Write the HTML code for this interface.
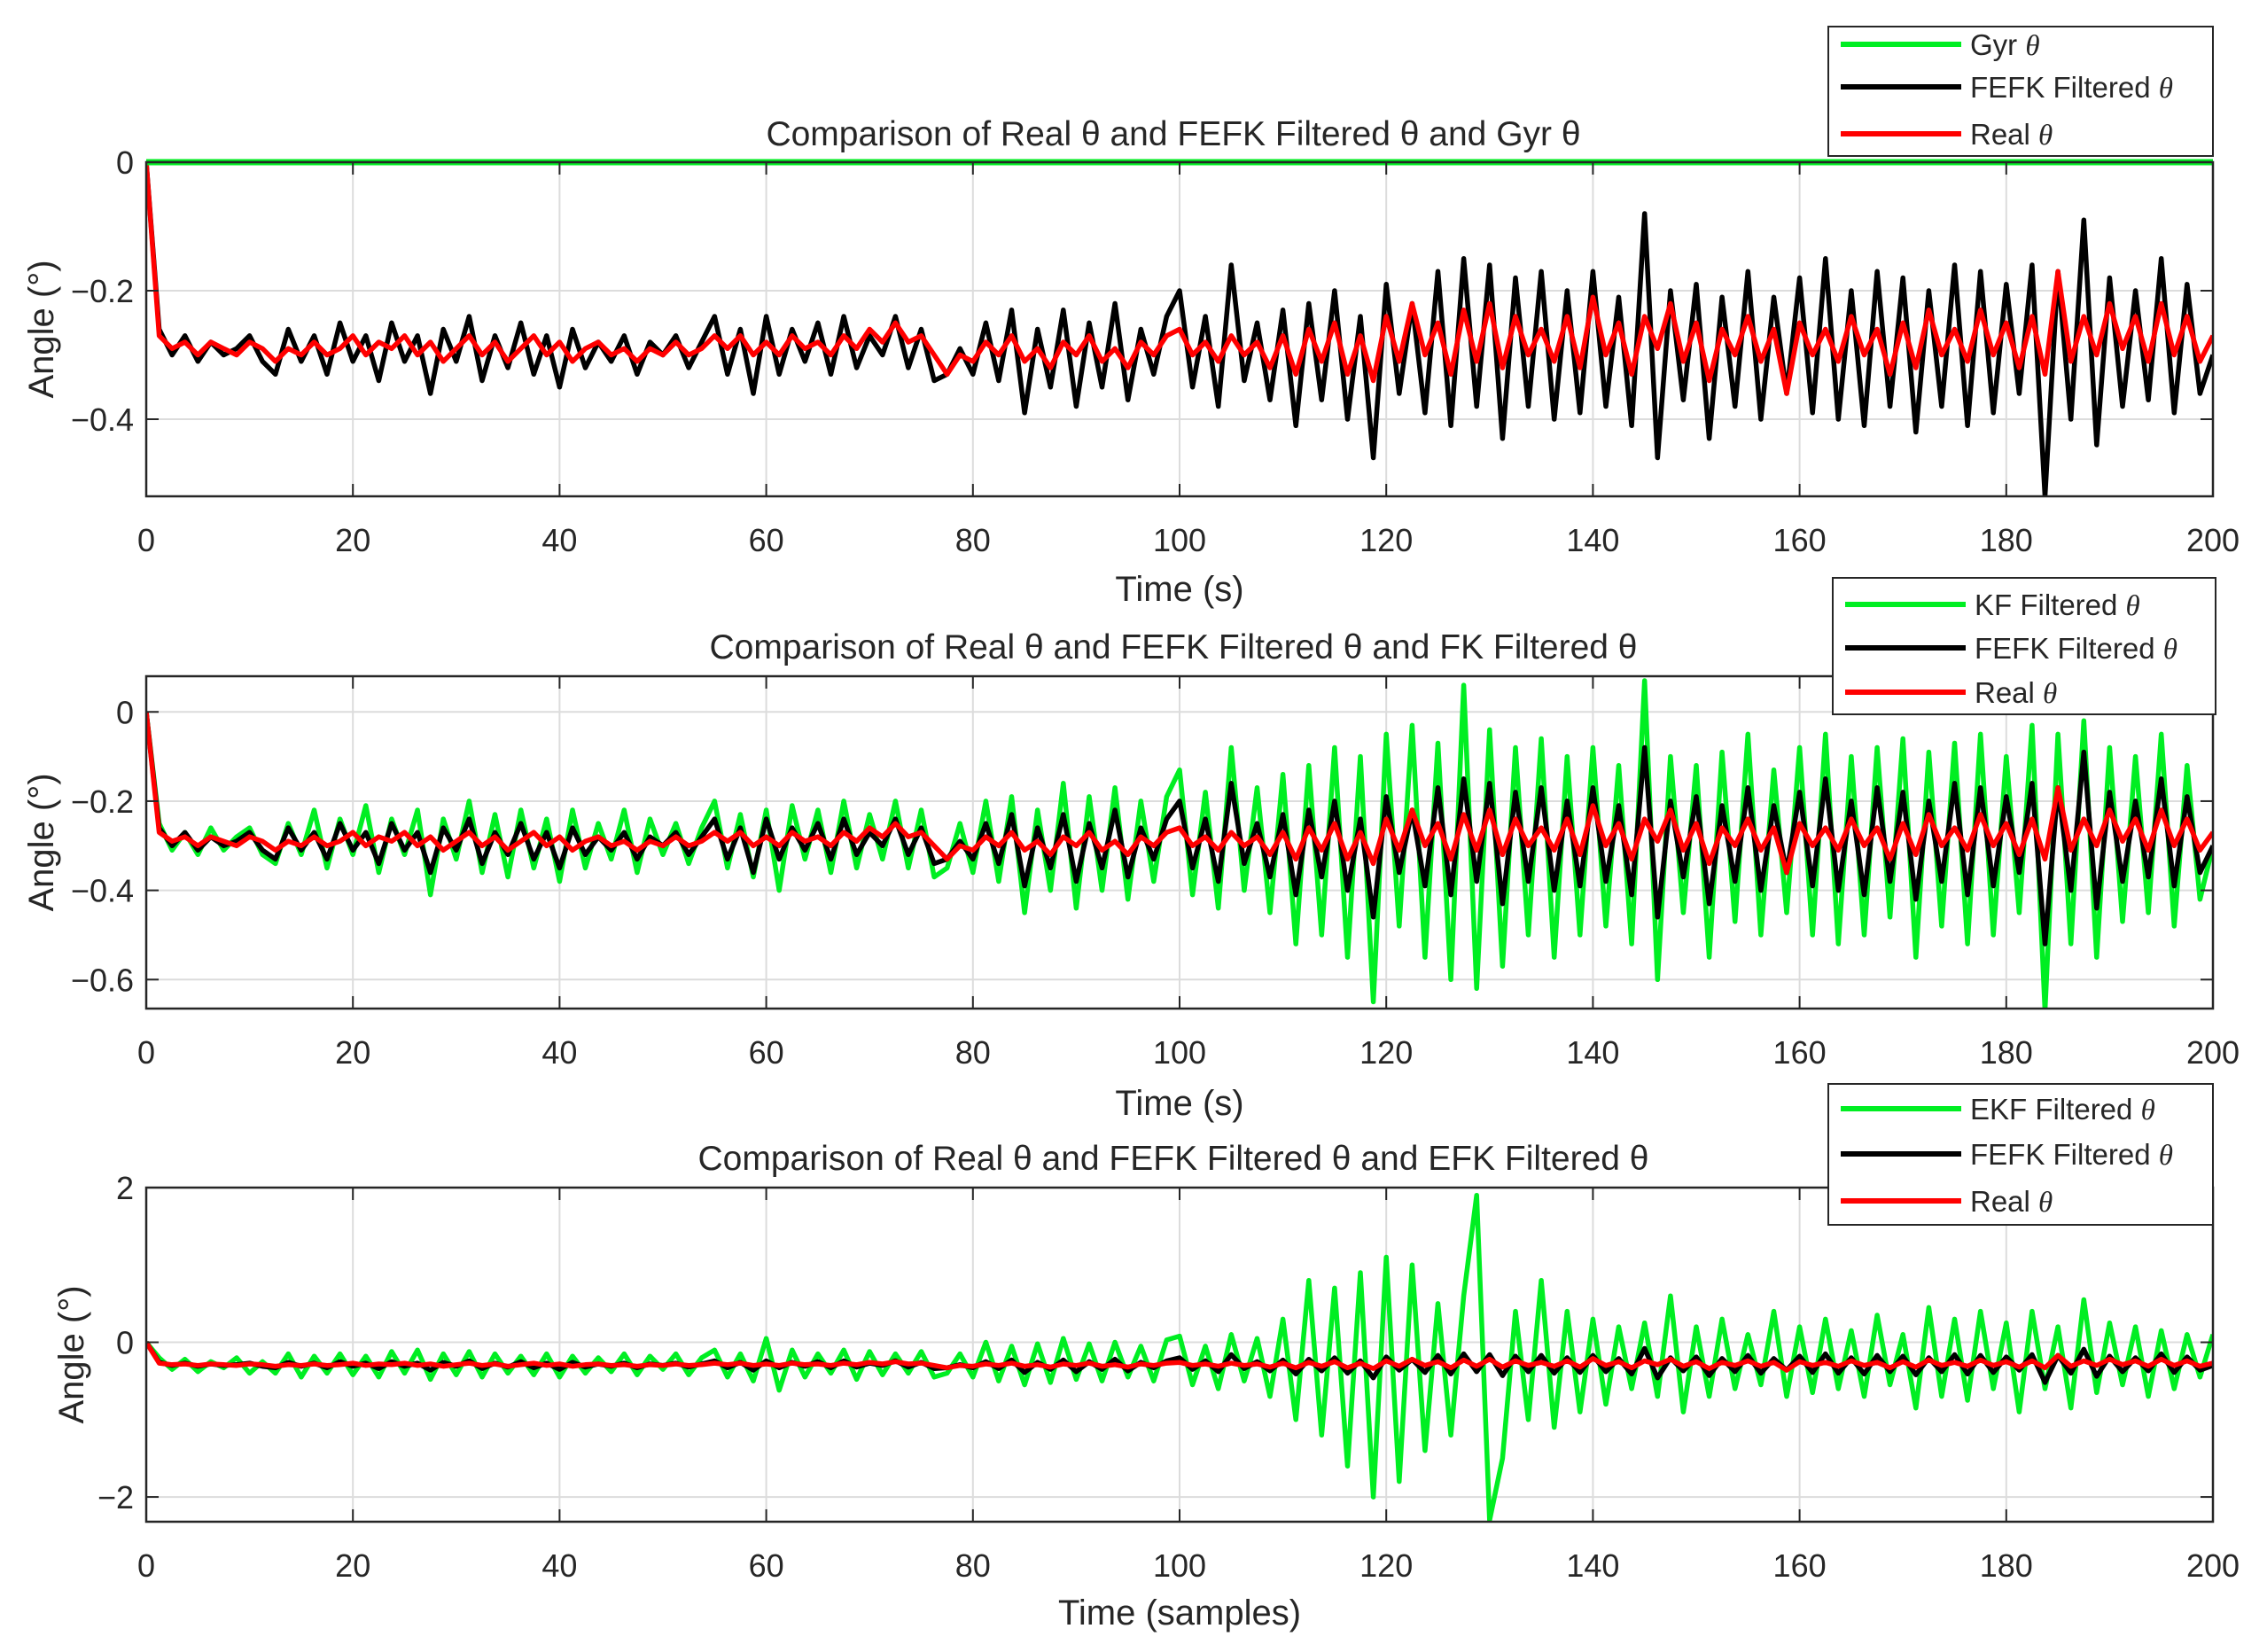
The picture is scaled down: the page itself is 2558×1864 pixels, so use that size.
<!DOCTYPE html>
<html><head><meta charset="utf-8"><style>
body{margin:0;background:#fff}
svg{display:block}
text{font-family:"Liberation Sans",sans-serif;fill:#262626}
</style></head><body>
<svg id="fig" width="2558" height="1864" viewBox="0 0 2558 1864" xmlns="http://www.w3.org/2000/svg"></svg>
<script>
const xTicks=[0,20,40,60,80,100,120,140,160,180,200];
const tStep=1.25;
const gyrT=[0,200];
const gyr=[0,0];
const real=[0,-0.27,-0.29,-0.28,-0.30,-0.28,-0.29,-0.30,-0.28,-0.29,
-0.31,-0.29,-0.30,-0.28,-0.30,-0.29,-0.27,-0.30,-0.28,-0.29,
-0.27,-0.30,-0.28,-0.31,-0.29,-0.27,-0.30,-0.28,-0.31,-0.29,
-0.27,-0.30,-0.28,-0.31,-0.29,-0.28,-0.30,-0.29,-0.31,-0.29,
-0.30,-0.28,-0.30,-0.29,-0.27,-0.29,-0.27,-0.30,-0.28,-0.30,
-0.27,-0.29,-0.28,-0.30,-0.27,-0.29,-0.26,-0.28,-0.25,-0.28,
-0.27,-0.30,-0.33,-0.30,-0.31,-0.28,-0.30,-0.27,-0.31,-0.29,
-0.32,-0.28,-0.30,-0.27,-0.31,-0.29,-0.32,-0.28,-0.30,-0.27,
-0.26,-0.30,-0.28,-0.31,-0.27,-0.30,-0.28,-0.32,-0.27,-0.33,
-0.26,-0.31,-0.25,-0.33,-0.27,-0.34,-0.24,-0.31,-0.22,-0.30,
-0.25,-0.33,-0.23,-0.31,-0.22,-0.32,-0.24,-0.30,-0.26,-0.31,
-0.24,-0.32,-0.21,-0.30,-0.25,-0.33,-0.24,-0.29,-0.22,-0.31,
-0.25,-0.34,-0.26,-0.30,-0.24,-0.31,-0.26,-0.36,-0.25,-0.30,
-0.26,-0.31,-0.24,-0.30,-0.26,-0.33,-0.25,-0.32,-0.23,-0.30,
-0.26,-0.31,-0.23,-0.30,-0.25,-0.32,-0.24,-0.33,-0.17,-0.31,
-0.24,-0.30,-0.22,-0.29,-0.24,-0.31,-0.22,-0.30,-0.24,-0.31,
-0.27];
const fefk=[0,-0.26,-0.30,-0.27,-0.31,-0.28,-0.30,-0.29,-0.27,-0.31,
-0.33,-0.26,-0.31,-0.27,-0.33,-0.25,-0.31,-0.27,-0.34,-0.25,
-0.31,-0.27,-0.36,-0.26,-0.31,-0.24,-0.34,-0.27,-0.32,-0.25,
-0.33,-0.27,-0.35,-0.26,-0.32,-0.28,-0.31,-0.27,-0.33,-0.28,
-0.30,-0.27,-0.32,-0.28,-0.24,-0.33,-0.26,-0.36,-0.24,-0.33,
-0.26,-0.31,-0.25,-0.33,-0.24,-0.32,-0.27,-0.30,-0.24,-0.32,
-0.26,-0.34,-0.33,-0.29,-0.33,-0.25,-0.34,-0.23,-0.39,-0.26,
-0.35,-0.23,-0.38,-0.25,-0.35,-0.22,-0.37,-0.26,-0.33,-0.24,
-0.20,-0.35,-0.24,-0.38,-0.16,-0.34,-0.25,-0.37,-0.23,-0.41,
-0.22,-0.37,-0.20,-0.40,-0.24,-0.46,-0.19,-0.36,-0.22,-0.39,
-0.17,-0.41,-0.15,-0.38,-0.16,-0.43,-0.18,-0.38,-0.17,-0.40,
-0.20,-0.39,-0.17,-0.38,-0.21,-0.41,-0.08,-0.46,-0.20,-0.37,
-0.19,-0.43,-0.21,-0.38,-0.17,-0.40,-0.21,-0.36,-0.18,-0.39,
-0.15,-0.40,-0.20,-0.41,-0.17,-0.38,-0.18,-0.42,-0.20,-0.38,
-0.16,-0.41,-0.17,-0.39,-0.19,-0.36,-0.16,-0.52,-0.17,-0.40,
-0.09,-0.44,-0.18,-0.38,-0.20,-0.37,-0.15,-0.39,-0.19,-0.36,
-0.30];
const kf=[0,-0.25,-0.31,-0.27,-0.32,-0.26,-0.31,-0.28,-0.26,-0.32,
-0.34,-0.25,-0.32,-0.22,-0.35,-0.24,-0.32,-0.21,-0.36,-0.24,
-0.32,-0.22,-0.41,-0.24,-0.33,-0.20,-0.36,-0.23,-0.37,-0.22,
-0.35,-0.24,-0.38,-0.22,-0.35,-0.25,-0.33,-0.22,-0.36,-0.24,
-0.32,-0.25,-0.34,-0.26,-0.20,-0.35,-0.23,-0.37,-0.22,-0.40,
-0.21,-0.33,-0.22,-0.36,-0.20,-0.35,-0.23,-0.33,-0.20,-0.35,
-0.22,-0.37,-0.35,-0.25,-0.36,-0.20,-0.38,-0.19,-0.45,-0.22,
-0.40,-0.16,-0.44,-0.19,-0.40,-0.17,-0.42,-0.20,-0.38,-0.19,
-0.13,-0.41,-0.18,-0.44,-0.08,-0.40,-0.17,-0.45,-0.14,-0.52,
-0.12,-0.50,-0.08,-0.55,-0.10,-0.65,-0.05,-0.48,-0.03,-0.55,
-0.07,-0.60,0.06,-0.62,-0.04,-0.57,-0.08,-0.50,-0.06,-0.55,
-0.10,-0.50,-0.08,-0.48,-0.12,-0.52,0.07,-0.60,-0.10,-0.45,
-0.12,-0.55,-0.09,-0.47,-0.05,-0.50,-0.13,-0.45,-0.08,-0.50,
-0.05,-0.52,-0.10,-0.50,-0.08,-0.46,-0.06,-0.55,-0.09,-0.48,
-0.07,-0.52,-0.05,-0.50,-0.10,-0.45,-0.03,-0.67,-0.05,-0.52,
-0.02,-0.55,-0.08,-0.47,-0.10,-0.45,-0.05,-0.48,-0.12,-0.42,
-0.30];
const ekf=[0,-0.20,-0.35,-0.22,-0.38,-0.25,-0.33,-0.20,-0.40,-0.25,
-0.40,-0.15,-0.45,-0.18,-0.40,-0.15,-0.42,-0.18,-0.45,-0.12,
-0.40,-0.10,-0.48,-0.15,-0.42,-0.12,-0.45,-0.15,-0.40,-0.18,
-0.42,-0.15,-0.45,-0.18,-0.40,-0.20,-0.38,-0.15,-0.42,-0.18,
-0.35,-0.15,-0.42,-0.20,-0.10,-0.45,-0.15,-0.50,0.05,-0.62,
-0.10,-0.45,-0.15,-0.40,-0.10,-0.48,-0.12,-0.42,-0.15,-0.40,
-0.12,-0.45,-0.40,-0.15,-0.45,0.00,-0.50,-0.05,-0.55,-0.02,
-0.52,0.05,-0.48,-0.02,-0.50,0.00,-0.45,-0.05,-0.50,0.03,
0.08,-0.55,-0.05,-0.60,0.10,-0.50,0.05,-0.70,0.30,-1.00,
0.80,-1.20,0.70,-1.60,0.90,-2.00,1.10,-1.80,1.00,-1.40,
0.50,-1.20,0.60,1.90,-2.30,-1.50,0.40,-1.00,0.80,-1.10,
0.40,-0.90,0.30,-0.80,0.20,-0.60,0.25,-0.70,0.60,-0.90,
0.20,-0.70,0.30,-0.60,0.10,-0.55,0.40,-0.70,0.20,-0.65,
0.30,-0.60,0.15,-0.70,0.35,-0.55,0.10,-0.85,0.45,-0.70,
0.30,-0.75,0.40,-0.60,0.25,-0.90,0.40,-0.60,0.20,-0.85,
0.55,-0.65,0.25,-0.55,0.20,-0.70,0.15,-0.60,0.10,-0.45,
0.10];
const yTicks1=[0,-0.2,-0.4];
const yTicks2=[0,-0.2,-0.4,-0.6];
const yTicks3=[2,0,-2];

const NS='http://www.w3.org/2000/svg';
const svg=document.getElementById('fig');
function mk(tag,attrs,parent){const e=document.createElementNS(NS,tag);for(const k in attrs)e.setAttribute(k,attrs[k]);(parent||svg).appendChild(e);return e;}
const X0=165,X1=2497;
function xs(t){return X0+(t-0)/(200-0)*(X1-X0);}
function fmt(v){return v===0?'0':(v<0?'\u2212'+String(Math.abs(v)):String(v));}

function panel(cfg,idx){
  const g=mk('g',{});
  
  
  const ys=v=>cfg.top+(cfg.ymax-v)/(cfg.ymax-cfg.ymin)*(cfg.bot-cfg.top);
  const clipId='clip'+idx;
  const cp=mk('clipPath',{id:clipId},g);mk('rect',{x:X0,y:cfg.top-4,width:X1-X0,height:cfg.bot-cfg.top+4},cp);
  mk('rect',{x:X0,y:cfg.top,width:X1-X0,height:cfg.bot-cfg.top,fill:'#fff'},g);
  xTicks.forEach(t=>{const l=mk('line',{x1:xs(t),x2:xs(t),y1:cfg.top,y2:cfg.bot,stroke:'#dcdcdc','stroke-width':2},g);
    });
  cfg.yt.forEach(v=>{const l=mk('line',{x1:X0,x2:X1,y1:ys(v),y2:ys(v),stroke:'#dcdcdc','stroke-width':2},g);
    });
  const sg=mk('g',{'clip-path':'url(#'+clipId+')'},g);
  cfg.series.forEach(s=>{
    let d='';
    s.v.forEach((v,i)=>{const t=s.t?s.t[i]:i*tStep;d+=(i?'L':'M')+xs(t).toFixed(1)+' '+ys(v).toFixed(1);});
    const p=mk('path',{d:d,fill:'none',stroke:s.c,'stroke-width':s.w||5.5,'stroke-linejoin':'round'},sg);
    
    
  });
  const box=mk('rect',{x:X0,y:cfg.top,width:X1-X0,height:cfg.bot-cfg.top,fill:'none',stroke:'#262626','stroke-width':2.5},g);
  
  xTicks.forEach(t=>{
    mk('line',{x1:xs(t),x2:xs(t),y1:cfg.bot,y2:cfg.bot-14,stroke:'#262626','stroke-width':2},g);
    mk('line',{x1:xs(t),x2:xs(t),y1:cfg.top,y2:cfg.top+14,stroke:'#262626','stroke-width':2},g);
    const tx=mk('text',{x:xs(t),y:cfg.bot+62,'text-anchor':'middle','font-size':36},g);tx.textContent=t;
    
  });
  cfg.yt.forEach(v=>{
    mk('line',{x1:X0,x2:X0+14,y1:ys(v),y2:ys(v),stroke:'#262626','stroke-width':2},g);
    mk('line',{x1:X1,x2:X1-14,y1:ys(v),y2:ys(v),stroke:'#262626','stroke-width':2},g);
    const tx=mk('text',{x:X0-14,y:ys(v)+13,'text-anchor':'end','font-size':36},g);tx.textContent=fmt(v);
    
  });
  const xl=mk('text',{x:(X0+X1)/2,y:cfg.xlY,'text-anchor':'middle','font-size':40},g);xl.textContent=cfg.xl;
  
  const yl=mk('text',{x:0,y:0,'text-anchor':'middle','font-size':40,transform:'translate('+cfg.ylX+','+((cfg.top+cfg.bot)/2)+') rotate(-90)'},g);yl.textContent='Angle (°)';
  
  const ti=mk('text',{x:1324,y:cfg.titleY,'text-anchor':'middle','font-size':39},g);ti.textContent=cfg.title;
  
  const L=cfg.leg;
  const lg=mk('g',{},g);
  mk('rect',{x:L.x,y:L.y,width:L.w,height:L.h,fill:'#fff',stroke:'#262626','stroke-width':2},lg);
  L.items.forEach((it,k)=>{
    const yy=L.ys[k];
    mk('line',{x1:L.x+14,x2:L.x+150,y1:yy,y2:yy,stroke:it.c,'stroke-width':6},lg);
    const tx=mk('text',{x:L.x+160,y:yy+12,'font-size':33},lg);tx.innerHTML=it.label+' <tspan font-family="Liberation Serif" font-style="italic">θ</tspan>';
    
  });
}
const G='#00ee22';
panel({top:183,bot:560,ymax:0,ymin:-0.52,yt:yTicks1,xl:'Time (s)',xlY:678,ylX:60,titleY:164,
  title:'Comparison of Real θ and FEFK Filtered θ and Gyr θ',
  series:[{v:fefk,c:'#000',name:'fefk-line'},{v:real,c:'#ff0000',name:'real-line'},{t:gyrT,v:gyr,c:G,w:7,name:'gyr-line'}],
  leg:{x:2063,y:30,w:434,h:146,ys:[50,98,151],items:[{c:G,label:'Gyr'},{c:'#000',label:'FEFK Filtered'},{c:'#ff0000',label:'Real'}]}},1);
panel({top:763,bot:1138,ymax:0.08,ymin:-0.665,yt:yTicks2,xl:'Time (s)',xlY:1258,ylX:60,titleY:743,
  title:'Comparison of Real θ and FEFK Filtered θ and FK Filtered θ',
  series:[{v:kf,c:G,name:'kf-line'},{v:fefk,c:'#000',name:'fefk-line'},{v:real,c:'#ff0000',name:'real-line'}],
  leg:{x:2068,y:652,w:432,h:154,ys:[682,731,781],items:[{c:G,label:'KF Filtered'},{c:'#000',label:'FEFK Filtered'},{c:'#ff0000',label:'Real'}]}},2);
panel({top:1340,bot:1717,ymax:2,ymin:-2.32,yt:yTicks3,xl:'Time (samples)',xlY:1833,ylX:94,titleY:1320,
  title:'Comparison of Real θ and FEFK Filtered θ and EFK Filtered θ',
  series:[{v:ekf,c:G,name:'ekf-line'},{v:fefk,c:'#000',name:'fefk-line'},{v:real,c:'#ff0000',name:'real-line'}],
  leg:{x:2063,y:1223,w:434,h:159,ys:[1251,1302,1355],items:[{c:G,label:'EKF Filtered'},{c:'#000',label:'FEFK Filtered'},{c:'#ff0000',label:'Real'}]}},3);
</script>
</body></html>
